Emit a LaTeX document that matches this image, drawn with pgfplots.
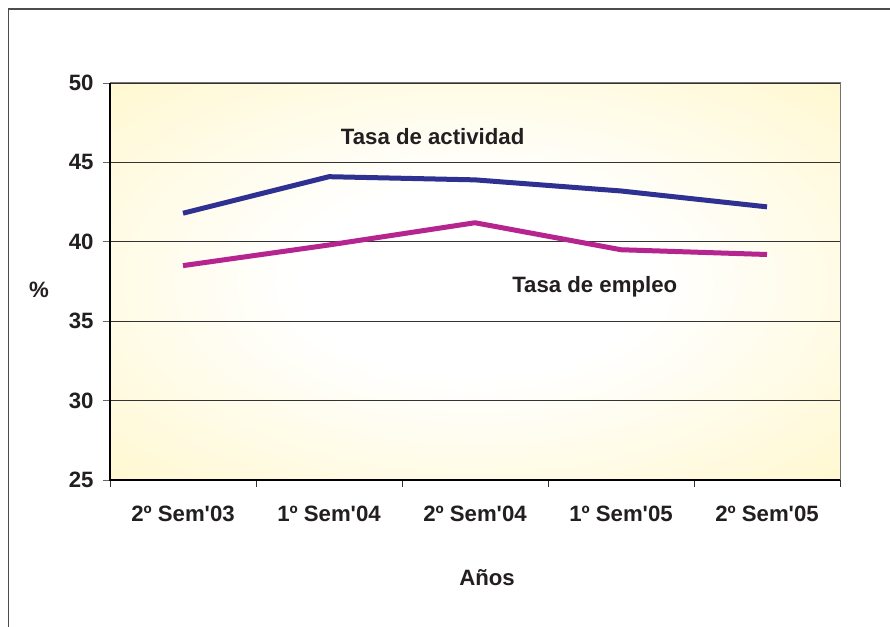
\documentclass[border=0pt]{standalone}
\usepackage{pgfplots}
\pgfplotsset{compat=1.18}
\usepackage{fontspec}
\setmainfont{Liberation Sans}
\definecolor{ablue}{HTML}{2E3192}
\definecolor{amag}{HTML}{B5248F}
\definecolor{ylw}{HTML}{FFF4B4}
\definecolor{txt}{HTML}{231F20}
\pgfdeclareradialshading{bgshade}{\pgfpoint{0bp}{0bp}}{color(0bp)=(white); color(12bp)=(white); color(50bp)=(ylw); color(72bp)=(ylw)}
\newcommand\f{\fontsize{22.2bp}{26bp}\selectfont\bfseries}
\begin{document}
\begin{tikzpicture}
\useasboundingbox (0,0) rectangle (890bp,627bp);
\fill[white] (0,0) rectangle (890bp,627bp);
\draw[black!70, line width=1.2bp] (8.5bp,-10bp) rectangle (900bp,618bp);
\begin{axis}[
  at={(110bp,147bp)}, anchor=south west,
  scale only axis, width=730bp, height=397bp,
  xmin=0, xmax=5, ymin=25, ymax=50,
  axis background/.style={shading=bgshade},
  axis line style={draw=black!55, line width=1bp},
  xtick={0.5,1.5,2.5,3.5,4.5},
  xticklabels={2º Sem\textquotesingle 03,1º Sem\textquotesingle 04,2º Sem\textquotesingle 04,1º Sem\textquotesingle 05,2º Sem\textquotesingle 05},
  minor xtick={0,1,2,3,4,5},
  major x tick style={draw=none},
  minor x tick style={draw=black!80, line width=0.8bp},
  minor tick length=7bp,
  xtick pos=bottom,
  ytick={25,30,35,40,45,50},
  yticklabels={25,30,35,40,45,50},
  ytick pos=left,
  major y tick style={draw=black!60, line width=0.8bp},
  major tick length=7bp,
  tick align=outside,
  ymajorgrids,
  grid style={black!80, line width=0.8bp},
  tick label style={font=\f, text=txt},
  xticklabel style={yshift=-15bp},
  yticklabel style={xshift=-6bp},
  /pgf/number format/assume math mode=true,
  clip=false,
]
\addplot[ablue, line width=5bp, line join=round] coordinates {(0.5,41.8) (1.5,44.1) (2.5,43.9) (3.5,43.2) (4.5,42.2)};
\addplot[amag, line width=5bp, line join=round] coordinates {(0.5,38.5) (1.5,39.8) (2.5,41.2) (3.5,39.5) (4.5,39.2)};
\draw[black, line width=1.2bp] (rel axis cs:0,1) -- (rel axis cs:0,0) -- (rel axis cs:1,0);
\node[font=\f, text=txt] at (axis cs:2.21,46.65) {Tasa de actividad};
\node[font=\f, text=txt] at (axis cs:3.32,37.15) {Tasa de empleo};
\end{axis}
\node[font=\f, text=txt] at (39bp,337bp) {\%};
\node[font=\f, text=txt] at (487bp,49bp) {Años};
\end{tikzpicture}
\end{document}
